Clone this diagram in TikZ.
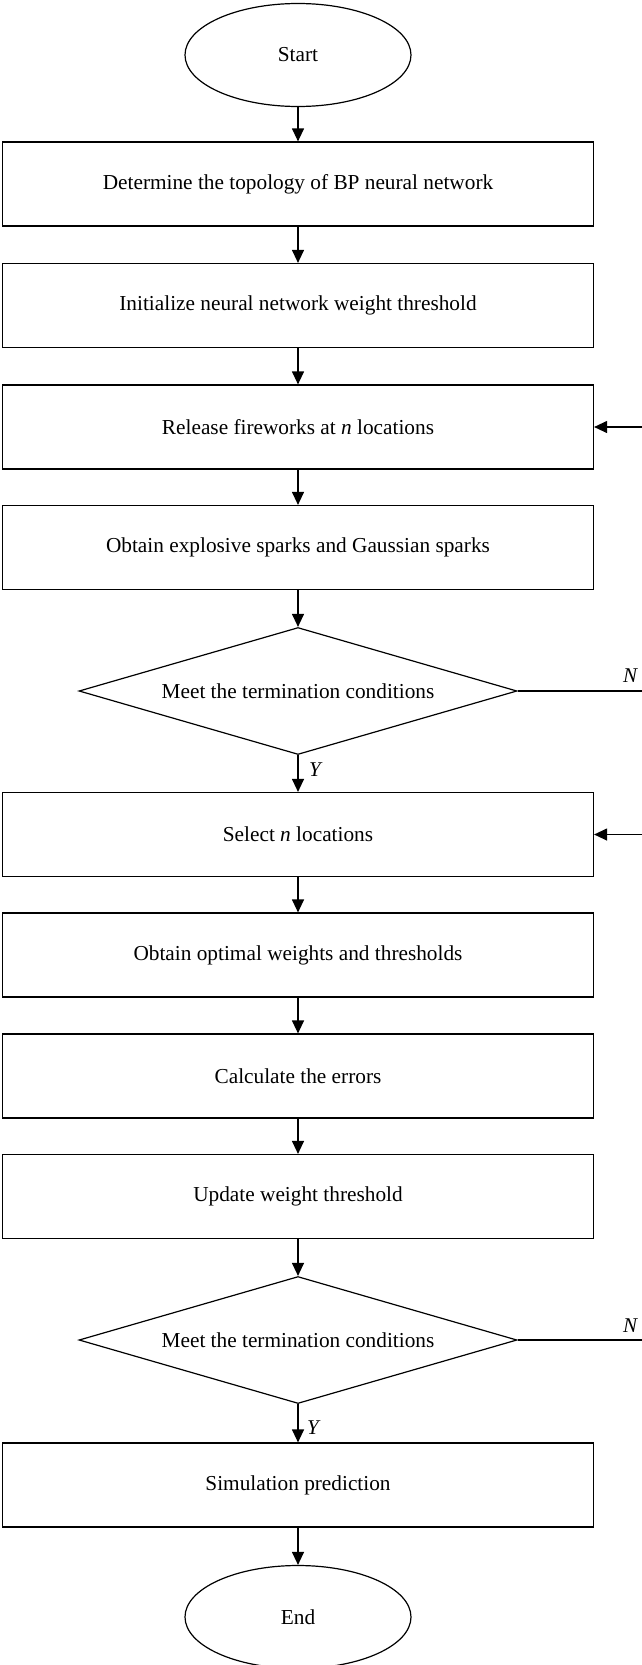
\documentclass[tikz,border=0pt]{standalone}
\usepackage{fontspec}
\setmainfont{Liberation Serif}
\usepackage{tikz}
\usetikzlibrary{arrows.meta,shapes}
\usetikzlibrary{positioning}
\tikzset{
    block/.style={draw=black, rectangle, minimum width=591pt, minimum height=84pt, inner sep=0pt},
    terminal/.style={draw=black, ellipse, minimum width=226pt, minimum height=103pt, inner sep=0pt},
    decision/.style={draw=black, diamond, aspect=3.45, minimum width=438pt, minimum height=127pt, inner sep=0pt},
    flow/.style={draw=black, -{Triangle[length=13pt,width=12pt]}},
    flownoarrow/.style={draw=black},
    answer/.style={font=\fontsize{21}{25}\selectfont\itshape, inner sep=0pt},
}

\begin{document}
\begin{tikzpicture}[x=1pt, y=-1pt, line width=1.2pt, font=\fontsize{21.3}{25}\selectfont]
	\useasboundingbox (0,0) rectangle (642,1665);
	% first loop
	\node[terminal] (start) at (298,55) {Start};
	\node[block] (topo) at (298,184) {Determine the topology of BP neural network};
	\node[block] (init) at (298,305.5) {Initialize neural network weight threshold};
	\node[block] (release) at (298,427) {Release fireworks at \textit{n} locations};
	\node[block] (sparks) at (298,547.5) {Obtain explosive sparks and Gaussian sparks};
	\node[decision] (meet1) at (298,691) {Meet the termination conditions};
	%
	\node[block] (select) at (298,834.5) {Select \textit{n} locations};
	\node[block] (optimal) at (298,955) {Obtain optimal weights and thresholds};
	\node[block] (errors) at (298,1076) {Calculate the errors};
	\node[block] (update) at (298,1196.5) {Update weight threshold};
	\node[decision] (meet2) at (298,1340) {Meet the termination conditions};
	\node[block] (predict) at (298,1485) {Simulation prediction};
	\node[terminal] (end) at (298,1617) {End};
	%
	\coordinate (back1) at (642,427);
	\coordinate (no1) at (642,691);
	\coordinate (back2) at (642,834.5);
	\coordinate (no2) at (642,1340);
	%
	\draw[flow] (start) -- (topo);
	\draw[flow] (topo) -- (init);
	\draw[flow] (init) -- (release);
	\draw[flow] (release) -- (sparks);
	\draw[flow] (sparks) -- (meet1);
	\draw[flow] (meet1) -- (select);
	\draw[flow] (select) -- (optimal);
	\draw[flow] (optimal) -- (errors);
	\draw[flow] (errors) -- (update);
	\draw[flow] (update) -- (meet2);
	\draw[flow] (meet2) -- (predict);
	\draw[flow] (predict) -- (end);
	%
	\draw[flownoarrow] (meet1.east) -- (no1);
	\draw[flownoarrow] (meet2.east) -- (no2);
	\draw[flow] (back1) -- (release.east);
	\draw[flow] (back2) -- (select.east);
	%
	\node[answer] (yes1) at (315,770) {Y};
	\node[answer] (yes2) at (313,1428) {Y};
	\node[answer] (not1) at (630,676) {N};
	\node[answer] (not2) at (630,1326) {N};
\end{tikzpicture}
\end{document}
